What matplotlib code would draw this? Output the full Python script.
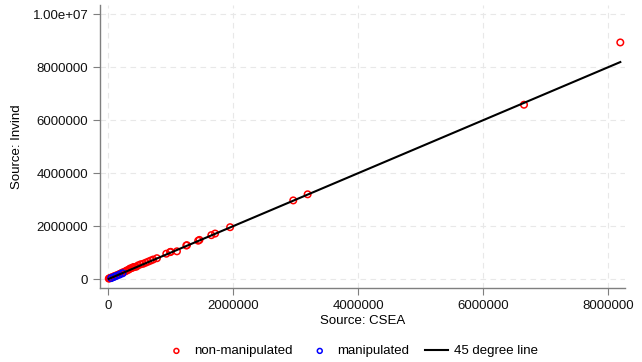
import matplotlib.pyplot as plt
import numpy as np

plt.rcParams['font.family'] = ['Liberation Sans', 'DejaVu Sans']

# non-manipulated firms: (CSEA, Invind)
csea_non = [8190000, 6650000, 3190000, 2960000, 1950000, 1710000, 1650000, 1460000,
            1440000, 1260000, 1250000, 1100000, 990000, 1000000, 930000, 780000,
            720000, 680000, 640000, 600000, 560000, 520000, 480000, 450000, 420000,
            400000, 380000, 350000, 330000, 300000, 280000, 250000, 220000, 200000,
            180000, 150000, 120000, 100000, 80000, 60000, 40000, 20000, 10000]
invind_non = [8930000, 6580000, 3200000, 2970000, 1960000, 1720000, 1660000, 1480000,
              1450000, 1280000, 1270000, 1050000, 1020000, 1030000, 960000, 790000,
              740000, 700000, 660000, 620000, 580000, 560000, 520000, 470000, 460000,
              450000, 420000, 400000, 360000, 330000, 300000, 270000, 240000, 210000,
              190000, 160000, 130000, 110000, 90000, 70000, 50000, 30000, 20000]

# manipulated firms
csea_man = [50000, 90000, 130000, 180000, 230000]
invind_man = [40000, 80000, 120000, 170000, 220000]

fig = plt.figure(figsize=(6.42, 3.62), dpi=100)
ax = fig.add_axes([0.156, 0.204, 0.818, 0.782])

ax.scatter(csea_non, invind_non, s=22, facecolors='none', edgecolors='red',
           linewidths=1.1, label='non-manipulated', zorder=3)
ax.scatter(csea_man, invind_man, s=22, facecolors='none', edgecolors='blue',
           linewidths=1.1, label='manipulated', zorder=3)

allx = csea_non + csea_man
line_x = [min(allx), max(allx)]
ax.plot(line_x, line_x, color='black', lw=1.5, label='45 degree line', zorder=4)

ax.set_xlim(-128000, 8270000)
ax.set_ylim(-340000, 10340000)

ax.set_xticks([0, 2000000, 4000000, 6000000, 8000000])
ax.set_xticklabels(['0', '2000000', '4000000', '6000000', '8000000'])
ax.set_yticks([0, 2000000, 4000000, 6000000, 8000000, 10000000])
ax.set_yticklabels(['0', '2000000', '4000000', '6000000', '8000000', '1.00e+07'])

ax.grid(True, color='#e8e8e8', linestyle=(0, (5, 4)), lw=0.8)
ax.set_axisbelow(True)
for s in ['top', 'right']:
    ax.spines[s].set_visible(False)
for s in ['left', 'bottom']:
    ax.spines[s].set_color('#7f7f7f')
    ax.spines[s].set_linewidth(1.0)
ax.tick_params(direction='out', length=5, color='#7f7f7f', labelsize=9.5,
               labelcolor='#111111')

ax.set_xlabel('Source: CSEA', fontsize=9.5, labelpad=2)
ax.set_ylabel('Source: Invind', fontsize=9.5, labelpad=7)

leg = fig.legend(loc='lower center', bbox_to_anchor=(0.548, -0.02), ncol=3,
                 frameon=False, fontsize=9.5, handlelength=1.7, columnspacing=1.2,
                 markerscale=0.75, handletextpad=0.5)

plt.savefig('out.png', dpi=100)
